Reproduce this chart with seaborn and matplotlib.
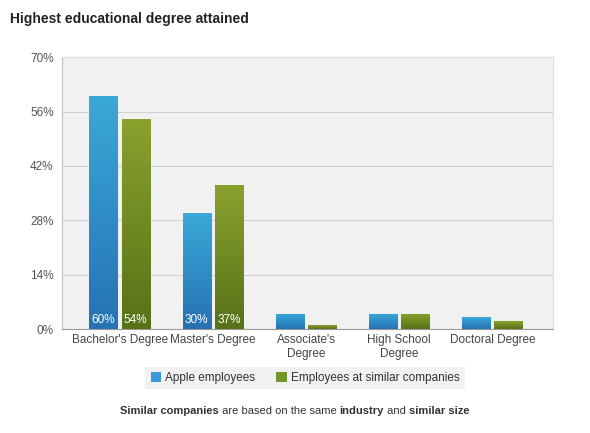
import numpy as np
import pandas as pd
import seaborn as sns
import matplotlib.pyplot as plt
from matplotlib.colors import LinearSegmentedColormap
from matplotlib.patches import Patch

# data
categories = ["Bachelor's Degree", "Master's Degree", "Associate's\nDegree",
              "High School\nDegree", "Doctoral Degree"]
apple = [60, 30, 4, 4, 3]
similar = [54, 37, 1, 4, 2]
series = ["Apple employees", "Employees at similar companies"]
yticks = [0, 14, 28, 42, 56, 70]

df = pd.DataFrame({
    "degree": categories * 2,
    "share": apple + similar,
    "group": [series[0]] * len(apple) + [series[1]] * len(similar),
})

sns.set_style("white")
plt.rcParams["font.family"] = ["Liberation Sans", "DejaVu Sans"]

fig = plt.figure(figsize=(5.9, 4.33), dpi=100)
ax = fig.add_axes([0.105, 0.240, 0.832, 0.628])
ax.set_facecolor("#f1f1f1")

sns.barplot(data=df, x="degree", y="share", hue="group", ax=ax,
            palette=["#2f8fcc", "#6f8c22"], width=0.69, gap=0.12,
            legend=False, zorder=3)

# vertical gradients on bars
grads = [("#3aa9d9", "#2672b3"), ("#8aa12e", "#577218")]
for cont, (top, bot) in zip(ax.containers, grads):
    cmap = LinearSegmentedColormap.from_list("g", [bot, top])
    for bar in cont:
        x0, y0 = bar.get_x(), bar.get_y()
        w, h = bar.get_width(), bar.get_height()
        im = ax.imshow(np.linspace(0, 1, 100).reshape(-1, 1), cmap=cmap,
                       aspect="auto", origin="lower",
                       extent=[x0, x0 + w, y0, y0 + h], zorder=3)
        im.set_clip_path(bar)
        bar.set_facecolor("none")
        bar.set_edgecolor("none")

# value labels inside the two big groups
for cont, vals in zip(ax.containers, [apple, similar]):
    for bar, v in list(zip(cont, vals))[:2]:
        ax.text(bar.get_x() + bar.get_width() / 2, 0.7, f"{v}%",
                ha="center", va="bottom", color="white", fontsize=8.5, zorder=5)

ax.set_xlim(-0.62, 4.65)
ax.set_ylim(0, 70)
ax.set_yticks(yticks)
ax.set_yticklabels([f"{t}%" for t in yticks])
ax.yaxis.grid(True, color="#cfcfcf", linewidth=0.8, zorder=0)
ax.set_axisbelow(True)
ax.set_xlabel("")
ax.set_ylabel("")
ax.tick_params(axis="both", length=0, labelsize=8.5, labelcolor="#444444")
ax.tick_params(axis="y", pad=6, labelcolor="#555555")
for s in ["top", "right"]:
    ax.spines[s].set_color("#dddddd")
ax.spines["left"].set_color("#c0c0c0")
ax.spines["bottom"].set_color("#999999")

fig.text(0.017, 0.947, "Highest educational degree attained",
         fontsize=10, fontweight="bold", color="#222222")

handles = [Patch(facecolor="#3a9ad9", edgecolor="none"),
           Patch(facecolor="#74952a", edgecolor="none")]
leg = fig.legend(handles, series, loc="center", bbox_to_anchor=(0.517, 0.127),
                 ncol=2, frameon=True, fontsize=8.5, handlelength=0.9,
                 handleheight=0.9, handletextpad=0.3, columnspacing=1.8,
                 borderpad=0.45, fancybox=False)
leg.get_frame().set_facecolor("#eeeeee")
leg.get_frame().set_edgecolor("none")
for t in leg.get_texts():
    t.set_color("#333333")

# footnote with bold words, chained piece by piece
parts = [("Similar companies", "bold"), (" are based on the same ", "normal"),
         ("industry", "bold"), (" and ", "normal"), ("similar size", "bold")]
prev = fig.text(0.203, 0.045, parts[0][0], fontsize=8, fontweight=parts[0][1],
                color="#333333")
for txt, wt in parts[1:]:
    prev = fig.add_artist(plt.Annotation(txt, xy=(1, 0), xycoords=prev,
                                         fontsize=8, fontweight=wt,
                                         color="#333333", va="bottom"))

fig.savefig("out.png", dpi=100)
